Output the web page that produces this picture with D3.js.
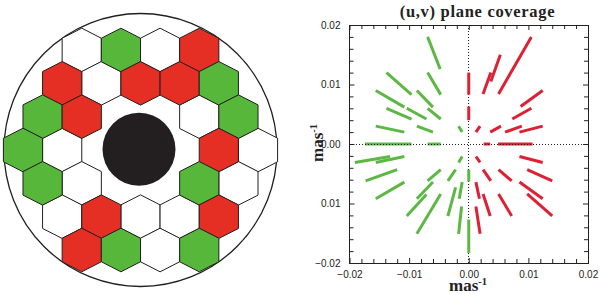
<!DOCTYPE html>
<html lang="en">
<head>
<meta charset="UTF-8">
<title>(u,v) plane coverage</title>
<style>
    body { margin: 0; background: #fff; }
    svg { display: block; }
    .tick text { font-family: "Liberation Sans", sans-serif; font-size: 10px; fill: #222; }
    .axis path, .axis line { stroke: #222; }
    .title { font-family: "Liberation Serif", serif; font-weight: bold; font-size: 16.5px; letter-spacing: 0.7px; fill: #222; }
    .axis-label { font-family: "Liberation Serif", serif; font-weight: bold; font-size: 17px; fill: #222; }
    .axis-label .sup { font-size: 10.5px; }
</style>
</head>
<body>
<div id="chart"></div>
<script src="https://d3js.org/d3.v7.min.js"></script>
<script type="text/javascript">
// hexagon layout: row / column on the lattice, and which ones are filled
const hexRow = [-3,-3,-3,-3, -2,-2,-2,-2,-2, -1,-1,-1,-1, 0,0,0,0, 1,1,1,1, 2,2,2,2,2, 3,3,3,3];
const hexCol = [-3,-1,1,3, -4,-2,0,2,4, -5,-3,3,5, -6,-4,4,6, -5,-3,3,5, -4,-2,0,2,4, -3,-1,1,3];
const hexKind = ["w","g","w","r", "r","w","r","r","g", "g","r","w","g", "g","w","r","w", "g","w","g","w", "w","r","w","w","r", "r","g","w","g"];

// (u,v) tracks in mas^-1: [u1, v1, u2, v2]
const greenTracks = [
    [-0.0069,0.0180,-0.0048,0.0126], [-0.0069,0.0120,-0.0047,0.0083], [-0.0138,0.0120,-0.0096,0.0083],
    [-0.0156,0.0090,-0.0108,0.0062], [-0.0087,0.0090,-0.0060,0.0062], [-0.0138,0.0060,-0.0096,0.0042],
    [-0.0104,0.0060,-0.0071,0.0042], [-0.0069,0.0060,-0.0047,0.0042], [-0.0156,0.0030,-0.0108,0.0020],
    [-0.0087,0.0030,-0.0060,0.0020], [-0.0017,0.0030,-0.0011,0.0020], [-0.0174,0,-0.0096,0],
    [-0.0069,0,-0.0047,0], [-0.0191,-0.0031,-0.0132,-0.0021], [-0.0156,-0.0031,-0.0108,-0.0021],
    [-0.0173,-0.0062,-0.0120,-0.0043], [-0.0156,-0.0092,-0.0108,-0.0064], [-0.0104,-0.0121,-0.0071,-0.0085],
    [-0.0087,-0.0092,-0.0060,-0.0064], [-0.0087,-0.0151,-0.0047,-0.0084], [-0.0069,-0.0062,-0.0047,-0.0043],
    [-0.0035,-0.0062,-0.0022,-0.0043], [-0.0017,-0.0031,-0.0011,-0.0021], [-0.0035,-0.0121,-0.0022,-0.0073],
    [-0.0016,-0.0092,-0.0011,-0.0064], [-0.0017,-0.0151,-0.0012,-0.0105], [0,-0.0043,0,-0.0063], [0,-0.0127,0,-0.0183]
];
const redTracks = [
    [0.0050,0.0084,0.0105,0.0180], [0.0024,0.0084,0.0037,0.0120], [0.0037,0.0105,0.0053,0.0150],
    [0.0087,0.0063,0.0124,0.0090], [0.0073,0.0042,0.0105,0.0060], [0.0061,0.0020,0.0089,0.0030],
    [0.0085,0.0020,0.0124,0.0030], [0.0036,0.0020,0.0054,0.0030], [0.0012,0.0020,0.0019,0.0030],
    [0.0025,0,0.0036,0], [0.0049,0,0.0107,0], [0,0.0120,0,0.0083], [0,0.0063,0,0.0040],
    [0.0085,-0.0021,0.0124,-0.0031], [0.0098,-0.0043,0.0140,-0.0062], [0.0085,-0.0064,0.0124,-0.0092],
    [0.0098,-0.0084,0.0140,-0.0121], [0.0050,-0.0043,0.0072,-0.0062], [0.0050,-0.0084,0.0072,-0.0121],
    [0.0024,-0.0043,0.0037,-0.0062], [0.0024,-0.0084,0.0036,-0.0121], [0.0012,-0.0021,0.0019,-0.0031],
    [0.0012,-0.0064,0.0018,-0.0092], [0.0012,-0.0105,0.0019,-0.0151]
];

const majorTicks = [-0.02, -0.01, 0, 0.01, 0.02];
const minorTicks = [-0.018,-0.016,-0.014,-0.012,-0.008,-0.006,-0.004,-0.002,0.002,0.004,0.006,0.008,0.012,0.014,0.016,0.018];
const xTickLabels = ["\u22120.02", "\u22120.01", "0.00", "0.01", "0.02"];
const yTickLabels = ["\u22120.02", "0.01", "0.00", "0.01", "0.02"];

const hexColors = { w: "#ffffff", g: "#56b73b", r: "#e52f24" };
const ink = "#231f20";

const svg = d3.select("#chart").append("svg").attr("width", 600).attr("height", 294);

// left panel: the segmented mirror
const hexX = d3.scaleLinear().domain([-6, 6]).range([23, 258]);
const hexY = d3.scaleLinear().domain([-3, 3]).range([50, 250]);
const hexOutline = [[0,-1],[1,-0.54],[1,0.54],[0,1],[-1,0.54],[-1,-0.54]];

const mirror = svg.append("g");

mirror.append("circle")
    .attr("cx", 140.5).attr("cy", 150).attr("r", 136.5)
    .attr("fill", "#fff").attr("stroke", ink).attr("stroke-width", 1.3);

const hexes = d3.range(hexRow.length).map(i => ({ row: hexRow[i], col: hexCol[i], kind: hexKind[i] }));

// white ones first so the coloured outlines stay on top
mirror.selectAll(".hex")
    .data(hexes.slice().sort((a, b) => (a.kind === "w" ? 0 : 1) - (b.kind === "w" ? 0 : 1)))
    .enter()
    .append("path")
    .attr("class", "hex")
    .attr("d", d => d3.line()(hexOutline.map(p => [hexX(d.col) + p[0] * 19.6, hexY(d.row) + p[1] * 21.8])) + "Z")
    .attr("fill", d => hexColors[d.kind])
    .attr("stroke", ink)
    .attr("stroke-width", 1);

mirror.append("circle")
    .attr("cx", 139).attr("cy", 149.3).attr("r", 36.5)
    .attr("fill", ink);

// right panel: (u,v) coverage
const xScale = d3.scaleLinear().domain([-0.02, 0.02]).range([349.5, 588]);
const yScale = d3.scaleLinear().domain([-0.02, 0.02]).range([263, 25]);

const plot = svg.append("g");

plot.append("rect")
    .attr("x", xScale(-0.02)).attr("y", yScale(0.02))
    .attr("width", xScale(0.02) - xScale(-0.02)).attr("height", yScale(-0.02) - yScale(0.02))
    .attr("fill", "none").attr("stroke", ink).attr("stroke-width", 1)
    .attr("shape-rendering", "crispEdges");

// vertical zero line sits under the tracks, horizontal one over them
plot.append("line")
    .attr("x1", xScale(0)).attr("x2", xScale(0))
    .attr("y1", yScale(-0.02)).attr("y2", yScale(0.02))
    .attr("stroke", ink).attr("stroke-dasharray", "1 2")
    .attr("shape-rendering", "crispEdges");

const drawTracks = function(tracks, color) {
    plot.selectAll(null)
        .data(tracks)
        .enter()
        .append("line")
        .attr("x1", d => xScale(d[0])).attr("y1", d => yScale(d[1]))
        .attr("x2", d => xScale(d[2])).attr("y2", d => yScale(d[3]))
        .attr("stroke", color)
        .attr("stroke-width", 3);
};
drawTracks(greenTracks, "#5cb843");
drawTracks(redTracks, "#dd2033");

plot.append("line")
    .attr("x1", xScale(-0.02)).attr("x2", xScale(0.02))
    .attr("y1", yScale(0)).attr("y2", yScale(0))
    .attr("stroke", ink).attr("stroke-dasharray", "1 2")
    .attr("shape-rendering", "crispEdges");

const addAxis = function(axis, tx, ty) {
    const g = plot.append("g").attr("class", "axis").attr("transform", `translate(${tx},${ty})`).call(axis);
    g.select(".domain").remove();
    return g;
};
const fmt = labels => (d, i) => labels[i];

// labelled axes, ticks point inward
addAxis(d3.axisBottom(xScale).tickValues(majorTicks).tickSize(-5).tickPadding(8).tickFormat(fmt(xTickLabels)), 0, yScale(-0.02));
addAxis(d3.axisLeft(yScale).tickValues(majorTicks).tickSize(-5).tickPadding(9).tickFormat(fmt(yTickLabels)), xScale(-0.02), 0);
addAxis(d3.axisTop(xScale).tickValues(majorTicks).tickSize(-5).tickFormat(""), 0, yScale(0.02));
addAxis(d3.axisRight(yScale).tickValues(majorTicks).tickSize(-5).tickFormat(""), xScale(0.02), 0);
addAxis(d3.axisBottom(xScale).tickValues(minorTicks).tickSize(-4).tickFormat(""), 0, yScale(-0.02));
addAxis(d3.axisLeft(yScale).tickValues(minorTicks).tickSize(-4).tickFormat(""), xScale(-0.02), 0);
addAxis(d3.axisTop(xScale).tickValues(minorTicks).tickSize(-4).tickFormat(""), 0, yScale(0.02));
addAxis(d3.axisRight(yScale).tickValues(minorTicks).tickSize(-4).tickFormat(""), xScale(0.02), 0);

plot.append("text")
    .attr("class", "title")
    .attr("x", 477.5).attr("y", 17)
    .attr("text-anchor", "middle")
    .text("(u,v) plane coverage");

const xLabel = plot.append("text")
    .attr("class", "axis-label")
    .attr("x", 468).attr("y", 291)
    .attr("text-anchor", "middle");
xLabel.append("tspan").text("mas");
xLabel.append("tspan").attr("class", "sup").attr("dy", -6).text("-1");

const yLabel = plot.append("text")
    .attr("class", "axis-label")
    .attr("transform", "translate(323,143) rotate(-90)")
    .attr("text-anchor", "middle");
yLabel.append("tspan").text("mas");
yLabel.append("tspan").attr("class", "sup").attr("dy", -6).text("-1");
</script>
</body>
</html>
